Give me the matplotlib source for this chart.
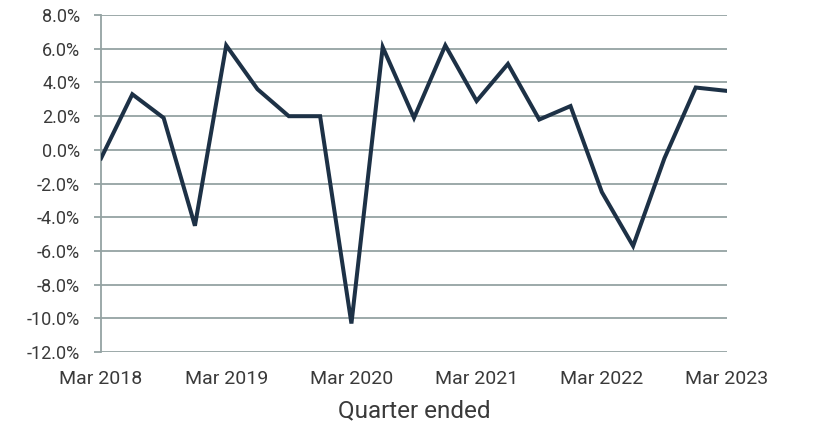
import matplotlib
matplotlib.use("Agg")
import matplotlib.pyplot as plt
from matplotlib.ticker import FuncFormatter

# quarterly change, Mar 2018 .. Mar 2023
quarters = ["Mar 2018", "Jun 2018", "Sep 2018", "Dec 2018",
            "Mar 2019", "Jun 2019", "Sep 2019", "Dec 2019",
            "Mar 2020", "Jun 2020", "Sep 2020", "Dec 2020",
            "Mar 2021", "Jun 2021", "Sep 2021", "Dec 2021",
            "Mar 2022", "Jun 2022", "Sep 2022", "Dec 2022",
            "Mar 2023"]
change = [-0.5, 3.3, 1.9, -4.5,
          6.2, 3.6, 2.0, 2.0,
          -10.3, 6.1, 1.9, 6.2,
          2.9, 5.1, 1.8, 2.6,
          -2.5, -5.7, -0.5, 3.7,
          3.5]
y_ticks = [-12, -10, -8, -6, -4, -2, 0, 2, 4, 6, 8]

plt.rcParams['font.family'] = ['Roboto', 'DejaVu Sans']
text_col = '#3a3a3a'
grid_col = '#94a3a3'

fig = plt.figure(figsize=(8.24, 4.30), dpi=100)
ax = fig.add_axes([0.1226, 0.181, 0.7597, 0.784])

x = list(range(len(quarters)))
ax.plot(x, change, color='#1d3146', lw=2.9, solid_joinstyle='miter', zorder=3)

ax.set_xlim(0, len(quarters) - 1)
ax.set_ylim(-12, 8)
ax.set_yticks(y_ticks)
ax.yaxis.set_major_formatter(FuncFormatter(lambda v, p: "%.1f%%" % v))
ax.grid(axis='y', color=grid_col, lw=1.3)
ax.set_axisbelow(True)

xt = [i for i, q in enumerate(quarters) if q.startswith("Mar")]
ax.set_xticks(xt)
ax.set_xticklabels([quarters[i] for i in xt])

for s in ['top', 'right', 'bottom']:
    ax.spines[s].set_visible(False)
ax.spines['left'].set_color(grid_col)
ax.spines['left'].set_linewidth(1.3)
ax.tick_params(axis='y', length=5, width=1.3, color=grid_col, labelsize=13, labelcolor=text_col, pad=10)
ax.tick_params(axis='x', length=0, labelsize=14, labelcolor=text_col, pad=13)

ax.set_xlabel("Quarter ended", fontsize=17.5, color=text_col, labelpad=8)

fig.savefig("out.png", dpi=100)
